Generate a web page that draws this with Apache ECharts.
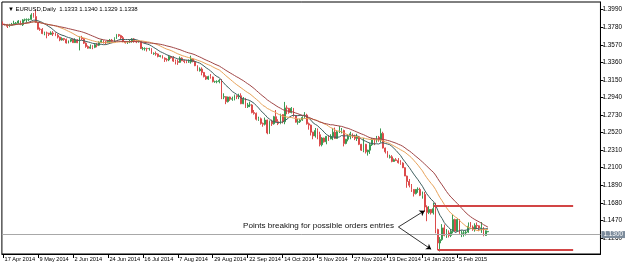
<!DOCTYPE html>
<html><head><meta charset="utf-8">
<script src="https://cdn.jsdelivr.net/npm/echarts@6/dist/echarts.min.js"></script>
<style>html,body{margin:0;padding:0;background:#fff}#c{width:625px;height:267px}</style>
</head><body><div id="c"></div>
<script>
// ---------- data ----------
const headerText = '\u25BC EURUSD,Daily  1.1333 1.1340 1.1329 1.1338';
const firstDay = '2014-04-17';
const lastDay = '2015-02-25';
const holidays = ['2014-12-25', '2015-01-01'];
const futureSlots = 51;
const labelEvery = 16;

const opens = [
1.3820,1.3813,1.3810,1.3792,1.3805,1.3815,1.3826,1.3830,1.3855,1.3810,
1.3868,1.3870,1.3871,1.3874,1.3927,1.3908,1.3838,1.3757,1.3755,1.3705,
1.3712,1.3710,1.3695,1.3712,1.3700,1.3684,1.3662,1.3628,1.3645,1.3635,
1.3592,1.3614,1.3635,1.3596,1.3628,1.3595,1.3658,1.3643,1.3590,1.3550,
1.3530,1.3545,1.3540,1.3570,1.3565,1.3600,1.3620,1.3605,1.3602,1.3610,
1.3625,1.3612,1.3646,1.3692,1.3680,1.3655,1.3610,1.3595,1.3605,1.3612,
1.3640,1.3615,1.3605,1.3610,1.3525,1.3525,1.3525,1.3524,1.3525,1.3465,
1.3465,1.3460,1.3430,1.3440,1.3410,1.3395,1.3390,1.3430,1.3415,1.3375,
1.3370,1.3360,1.3410,1.3380,1.3370,1.3365,1.3365,1.3400,1.3370,1.3320,
1.3260,1.3280,1.3240,1.3190,1.3160,1.3190,1.3185,1.3130,1.3130,1.3130,
1.3145,1.2945,1.2950,1.2890,1.2945,1.2920,1.2925,1.2960,1.2950,1.2960,
1.2865,1.2920,1.2830,1.2850,1.2850,1.2760,1.2750,1.2680,1.2685,1.2630,
1.2620,1.2670,1.2515,1.2655,1.2625,1.2710,1.2650,1.2630,1.2735,1.2650,
1.2815,1.2810,1.2760,1.2810,1.2720,1.2645,1.2650,1.2670,1.2700,1.2730,
1.2625,1.2610,1.2525,1.2480,1.2545,1.2495,1.2375,1.2455,1.2410,1.2475,
1.2445,1.2475,1.2525,1.2450,1.2530,1.2540,1.2545,1.2390,1.2440,1.2475,
1.2505,1.2470,1.2450,1.2470,1.2380,1.2310,1.2380,1.2290,1.2310,1.2375,
1.2445,1.2440,1.2465,1.2440,1.2510,1.2335,1.2290,1.2225,1.2230,1.2175,
1.2195,1.2185,1.2160,1.2155,1.2100,1.2000,1.1935,1.1890,1.1840,1.1790,
1.1840,1.1840,1.1770,1.1780,1.1630,1.1565,1.1600,1.1560,1.1610,1.1360,
1.1200,1.1240,1.1380,1.1290,1.1320,1.1290,1.1340,1.1480,1.1340,1.1480,
1.1315,1.1320,1.1320,1.1330,1.1400,1.1390,1.1370,1.1410,1.1405,1.1375,
1.1380,1.1290,1.1333];
const highs = [
1.3849,1.3822,1.3820,1.3821,1.3832,1.3858,1.3843,1.3866,1.3859,1.3878,
1.3884,1.3886,1.3885,1.3948,1.3951,1.3993,1.3843,1.3777,1.3770,1.3727,
1.3728,1.3713,1.3732,1.3734,1.3718,1.3702,1.3668,1.3660,1.3651,1.3645,
1.3622,1.3638,1.3645,1.3648,1.3638,1.3669,1.3677,1.3650,1.3599,1.3563,
1.3574,1.3565,1.3590,1.3590,1.3612,1.3640,1.3625,1.3615,1.3625,1.3640,
1.3640,1.3660,1.3700,1.3700,1.3690,1.3675,1.3615,1.3615,1.3630,1.3650,
1.3650,1.3625,1.3625,1.3615,1.3545,1.3540,1.3535,1.3535,1.3530,1.3480,
1.3490,1.3465,1.3445,1.3445,1.3420,1.3410,1.3445,1.3435,1.3435,1.3395,
1.3395,1.3430,1.3420,1.3395,1.3390,1.3395,1.3440,1.3405,1.3380,1.3325,
1.3300,1.3300,1.3245,1.3205,1.3200,1.3220,1.3190,1.3140,1.3145,1.3160,
1.3160,1.2990,1.2955,1.2950,1.2950,1.2950,1.2975,1.2965,1.2985,1.2990,
1.2945,1.2935,1.2875,1.2890,1.2860,1.2790,1.2760,1.2710,1.2700,1.2640,
1.2700,1.2675,1.2665,1.2675,1.2720,1.2790,1.2680,1.2745,1.2740,1.2887,
1.2845,1.2815,1.2825,1.2815,1.2730,1.2685,1.2685,1.2715,1.2765,1.2745,
1.2640,1.2615,1.2530,1.2575,1.2570,1.2530,1.2465,1.2460,1.2480,1.2490,
1.2500,1.2575,1.2580,1.2545,1.2600,1.2575,1.2555,1.2445,1.2500,1.2530,
1.2510,1.2495,1.2505,1.2480,1.2385,1.2455,1.2385,1.2315,1.2395,1.2455,
1.2450,1.2480,1.2480,1.2570,1.2530,1.2340,1.2300,1.2255,1.2250,1.2210,
1.2215,1.2215,1.2190,1.2165,1.2105,1.2005,1.1965,1.1905,1.1845,1.1845,
1.1865,1.1860,1.1815,1.1810,1.1650,1.1640,1.1605,1.1680,1.1680,1.1370,
1.1270,1.1425,1.1420,1.1365,1.1350,1.1365,1.1535,1.1490,1.1495,1.1485,
1.1350,1.1345,1.1350,1.1445,1.1450,1.1410,1.1435,1.1445,1.1410,1.1450,
1.1390,1.1350,1.1340];
const lows = [
1.3803,1.3801,1.3771,1.3781,1.3797,1.3808,1.3812,1.3820,1.3805,1.3795,
1.3852,1.3835,1.3855,1.3869,1.3895,1.3831,1.3752,1.3737,1.3697,1.3684,
1.3648,1.3675,1.3688,1.3675,1.3674,1.3646,1.3613,1.3620,1.3618,1.3585,
1.3587,1.3601,1.3592,1.3593,1.3590,1.3503,1.3628,1.3580,1.3535,1.3524,
1.3522,1.3517,1.3530,1.3540,1.3555,1.3590,1.3585,1.3575,1.3590,1.3595,
1.3600,1.3605,1.3640,1.3665,1.3640,1.3600,1.3585,1.3580,1.3590,1.3595,
1.3595,1.3590,1.3595,1.3520,1.3505,1.3500,1.3490,1.3500,1.3460,1.3450,
1.3440,1.3420,1.3420,1.3405,1.3365,1.3370,1.3375,1.3405,1.3365,1.3335,
1.3330,1.3355,1.3375,1.3350,1.3350,1.3355,1.3345,1.3360,1.3315,1.3255,
1.3250,1.3205,1.3180,1.3150,1.3150,1.3165,1.3120,1.3115,1.3110,1.3110,
1.2920,1.2920,1.2860,1.2880,1.2900,1.2900,1.2905,1.2920,1.2920,1.2860,
1.2860,1.2815,1.2815,1.2825,1.2750,1.2735,1.2665,1.2660,1.2615,1.2590,
1.2605,1.2500,1.2505,1.2600,1.2615,1.2640,1.2610,1.2620,1.2630,1.2620,
1.2740,1.2745,1.2750,1.2710,1.2640,1.2615,1.2635,1.2660,1.2690,1.2615,
1.2555,1.2485,1.2440,1.2460,1.2440,1.2355,1.2355,1.2400,1.2380,1.2420,
1.2440,1.2430,1.2445,1.2445,1.2515,1.2510,1.2355,1.2380,1.2415,1.2440,
1.2455,1.2430,1.2420,1.2370,1.2300,1.2285,1.2270,1.2245,1.2265,1.2360,
1.2370,1.2400,1.2410,1.2400,1.2330,1.2270,1.2220,1.2210,1.2165,1.2170,
1.2180,1.2150,1.2135,1.2095,1.2000,1.1860,1.1865,1.1810,1.1755,1.1780,
1.1800,1.1760,1.1730,1.1570,1.1460,1.1545,1.1540,1.1540,1.1315,1.1115,
1.1098,1.1225,1.1280,1.1260,1.1265,1.1270,1.1315,1.1340,1.1335,1.1300,
1.1270,1.1275,1.1290,1.1320,1.1385,1.1345,1.1335,1.1375,1.1340,1.1320,
1.1280,1.1285,1.1329];
const closes = [
1.3813,1.3810,1.3792,1.3805,1.3815,1.3826,1.3830,1.3855,1.3810,1.3868,
1.3870,1.3871,1.3874,1.3927,1.3908,1.3838,1.3757,1.3755,1.3705,1.3712,
1.3710,1.3695,1.3712,1.3700,1.3684,1.3662,1.3628,1.3645,1.3635,1.3592,
1.3614,1.3635,1.3596,1.3628,1.3595,1.3658,1.3643,1.3590,1.3550,1.3530,
1.3545,1.3540,1.3570,1.3565,1.3600,1.3620,1.3605,1.3602,1.3610,1.3625,
1.3612,1.3646,1.3692,1.3680,1.3655,1.3610,1.3595,1.3605,1.3612,1.3640,
1.3615,1.3605,1.3610,1.3525,1.3525,1.3525,1.3524,1.3525,1.3465,1.3465,
1.3460,1.3430,1.3440,1.3410,1.3395,1.3390,1.3430,1.3415,1.3375,1.3370,
1.3360,1.3410,1.3380,1.3370,1.3365,1.3365,1.3400,1.3370,1.3320,1.3260,
1.3280,1.3240,1.3190,1.3160,1.3190,1.3185,1.3130,1.3130,1.3130,1.3145,
1.2945,1.2950,1.2890,1.2945,1.2920,1.2925,1.2960,1.2950,1.2960,1.2865,
1.2920,1.2830,1.2850,1.2850,1.2760,1.2750,1.2680,1.2685,1.2630,1.2620,
1.2670,1.2515,1.2655,1.2625,1.2710,1.2650,1.2630,1.2735,1.2650,1.2815,
1.2810,1.2760,1.2810,1.2720,1.2645,1.2650,1.2670,1.2700,1.2730,1.2625,
1.2610,1.2525,1.2480,1.2545,1.2495,1.2375,1.2455,1.2410,1.2475,1.2445,
1.2475,1.2525,1.2450,1.2530,1.2540,1.2545,1.2390,1.2440,1.2475,1.2505,
1.2470,1.2450,1.2470,1.2380,1.2310,1.2380,1.2290,1.2310,1.2375,1.2445,
1.2440,1.2465,1.2440,1.2510,1.2335,1.2290,1.2225,1.2230,1.2175,1.2195,
1.2185,1.2160,1.2155,1.2100,1.2000,1.1935,1.1890,1.1840,1.1790,1.1840,
1.1840,1.1770,1.1780,1.1630,1.1565,1.1600,1.1560,1.1610,1.1360,1.1200,
1.1240,1.1380,1.1290,1.1320,1.1290,1.1340,1.1480,1.1340,1.1480,1.1315,
1.1320,1.1320,1.1330,1.1400,1.1390,1.1370,1.1410,1.1405,1.1375,1.1380,
1.1290,1.1345,1.1338];

const priceTicks = [1.3990,1.3780,1.3570,1.3360,1.3150,1.2940,1.2730,1.2520,1.2310,1.2100,1.1890,1.1680,1.1470,1.1260];
const maPeriods = [10, 20, 30];
const maColors = ['#3f5f5f', '#e8a35a', '#a04545'];

// annotation levels / anchors (category index, price)
const resistanceLevel = 1.1646;
const supportLevel = 1.1118;
const levelStart = [197, 199];
const levelEnd = 261;
const noteText = 'Points breaking for possible orders entries';
const arrowFrom = [181, 1.1391];
const arrowTo1 = [193, 1.1586];
const arrowTo2 = [196, 1.1124];

// ---------- build ----------
const MON = ['Jan','Feb','Mar','Apr','May','Jun','Jul','Aug','Sep','Oct','Nov','Dec'];
const categories = [];
const dayLabels = [];
(function () {
  const d = new Date(firstDay + 'T00:00:00Z');
  const end = new Date(lastDay + 'T00:00:00Z');
  while (d <= end) {
    const wd = d.getUTCDay();
    const iso = d.toISOString().slice(0, 10);
    if (wd !== 0 && wd !== 6 && holidays.indexOf(iso) < 0) {
      categories.push(iso);
      dayLabels.push(d.getUTCDate() + ' ' + MON[d.getUTCMonth()] + ' ' + d.getUTCFullYear());
    }
    d.setUTCDate(d.getUTCDate() + 1);
  }
  for (let k = 0; k < futureSlots; k++) categories.push('future-' + k);
})();
const nBars = closes.length;
const candles = closes.map((c, i) => [opens[i], c, lows[i], highs[i]]);

function movingAverage(n) {
  return closes.map((_, i) => {
    const s = Math.max(0, i - n + 1);
    let sum = 0;
    for (let j = s; j <= i; j++) sum += closes[j];
    return +(sum / (i - s + 1)).toFixed(5);
  });
}
const showLabel = (idx) => idx % labelEvery === 0 && idx < nBars;
const FONT = 'Liberation Sans, Arial, DejaVu Sans, sans-serif';

const chart = echarts.init(document.getElementById('c'), null, { renderer: 'canvas' });
const option = {
  animation: false,
  backgroundColor: '#fff',
  title: {
    text: headerText, left: 3, top: 1,
    textStyle: { fontSize: 6, fontWeight: 'normal', color: '#000', fontFamily: FONT }
  },
  grid: { left: 1, right: 24, top: 2, bottom: 13, show: true, borderColor: '#000', borderWidth: 1 },
  xAxis: {
    type: 'category', data: categories, boundaryGap: true,
    axisLine: { show: true, lineStyle: { color: '#000', width: 1 } },
    axisTick: { show: true, alignWithLabel: true, interval: showLabel, length: 4, lineStyle: { color: '#000' } },
    axisLabel: {
      interval: showLabel, align: 'left', margin: 2, fontSize: 5.6, color: '#000', fontFamily: FONT,
      formatter: (v, idx) => dayLabels[idx] ? ' ' + dayLabels[idx] : ''
    },
    splitLine: { show: false }
  },
  yAxis: {
    type: 'value', position: 'right', min: 1.10677, max: 1.40821,
    splitLine: { show: false },
    axisLine: { show: true, lineStyle: { color: '#000' } },
    axisTick: { show: true, length: 3, customValues: priceTicks, lineStyle: { color: '#000' } },
    axisLabel: { customValues: priceTicks, formatter: (v) => v.toFixed(4), fontSize: 6.4, color: '#000', margin: 2, fontFamily: FONT }
  },
  graphic: [{
    type: 'text', left: 243, top: 222,
    style: { text: noteText, fontSize: 8.1, fill: '#111', fontFamily: FONT }
  }],
  series: [
    {
      type: 'candlestick', name: 'EURUSD', data: candles, barWidth: '60%',
      itemStyle: { color: '#3a9a52', color0: '#dc4b4b', borderColor: '#3a9a52', borderColor0: '#dc4b4b', borderWidth: 1 },
      markLine: {
        silent: true, symbol: ['none', 'none'],
        lineStyle: { color: '#a8a8a8', width: 1, type: 'solid' },
        label: {
          show: true, position: 'end', distance: 1,
          formatter: (p) => p.value.toFixed(4),
          color: '#fff', backgroundColor: '#7d8c9c', padding: [1, 2, 0, 2],
          fontSize: 6.4, fontFamily: FONT
        },
        data: [{ yAxis: closes[nBars - 1] }]
      }
    },
    ...maPeriods.map((p, k) => ({
      type: 'line', name: 'MA' + p, data: movingAverage(p), showSymbol: false, symbol: 'none',
      lineStyle: { color: maColors[k], width: 1 }, silent: true, z: 3
    })),
    {
      type: 'line', name: 'annotations', data: [], silent: true, z: 4,
      markLine: {
        silent: true, symbol: ['none', 'none'], label: { show: false },
        data: [
          [{ coord: [levelStart[0], resistanceLevel], lineStyle: { color: '#d24545', width: 2, type: 'solid' } }, { coord: [levelEnd, resistanceLevel] }],
          [{ coord: [levelStart[1], supportLevel], lineStyle: { color: '#d24545', width: 2, type: 'solid' } }, { coord: [levelEnd, supportLevel] }],
          [{ coord: arrowFrom, symbol: 'none', lineStyle: { color: '#000', width: 0.8, type: 'solid' } }, { coord: arrowTo1, symbol: 'arrow', symbolSize: 5 }],
          [{ coord: arrowFrom, symbol: 'none', lineStyle: { color: '#000', width: 0.8, type: 'solid' } }, { coord: arrowTo2, symbol: 'arrow', symbolSize: 5 }]
        ]
      }
    }
  ]
};
chart.setOption(option);
</script></body></html>
